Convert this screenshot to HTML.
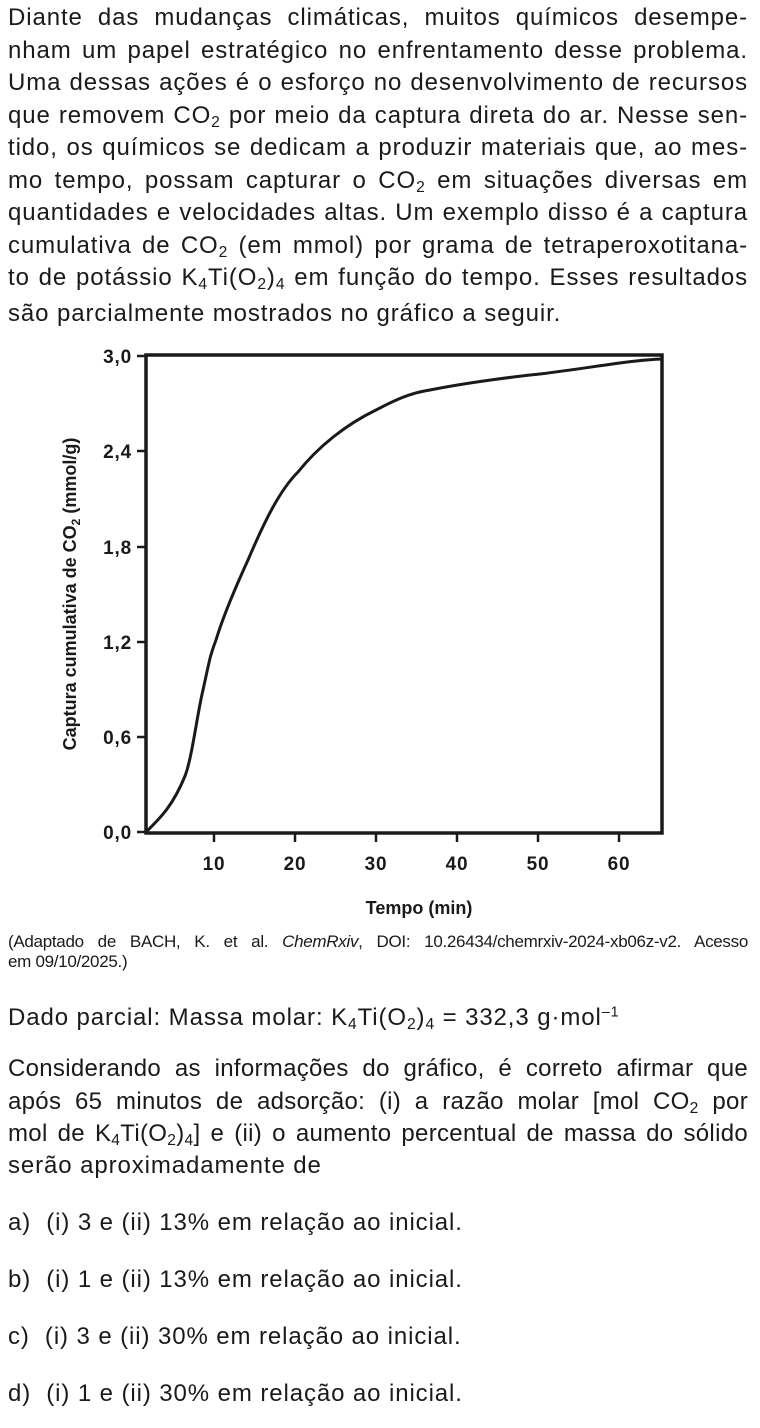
<!DOCTYPE html>
<html><head><meta charset="utf-8"><style>
body{margin:0;width:760px;height:1428px;background:#fff;font-family:"Liberation Sans",sans-serif;color:#1a1a1a;position:relative;overflow:hidden}
.p{position:absolute;left:8px;width:740px;font-size:24px;letter-spacing:0.9px;line-height:32.5px;text-align:justify;text-align-last:justify}
.l{position:absolute;left:8px;font-size:24px;letter-spacing:0.9px;white-space:nowrap}
sub{font-size:0.65em;vertical-align:-0.25em;line-height:0}
sup{font-size:0.6em;vertical-align:0.6em;line-height:0}
.cap{position:absolute;left:8px;width:740px;font-family:"Liberation Sans Narrow","Liberation Sans",sans-serif;font-size:17px;line-height:20px;letter-spacing:-0.3px}
</style></head><body>
<div class="p" style="top:2px;">Diante das mudanças climáticas, muitos químicos desempe-<br>nham um papel estratégico no enfrentamento desse problema.<br>Uma dessas ações é o esforço no desenvolvimento de recursos<br>que removem CO<sub>2</sub> por meio da captura direta do ar. Nesse sen-<br>tido, os químicos se dedicam a produzir materiais que, ao mes-<br>mo tempo, possam capturar o CO<sub>2</sub> em situações diversas em<br>quantidades e velocidades altas. Um exemplo disso é a captura<br>cumulativa de CO<sub>2</sub> (em mmol) por grama de tetraperoxotitana-<br>to de potássio K<sub>4</sub>Ti(O<sub>2</sub>)<sub>4</sub> em função do tempo. Esses resultados</div>
<div class="l" style="top:300px;">são parcialmente mostrados no gráfico a seguir.</div>

<svg style="position:absolute;left:0;top:0" width="760" height="940">
<g font-family="Liberation Sans Narrow, Liberation Sans, sans-serif" font-weight="bold" font-size="19" letter-spacing="0.8" fill="#1a1a1a">
<rect x="146" y="355" width="516" height="478" fill="none" stroke="#1a1a1a" stroke-width="3.5"/>
<g stroke="#1a1a1a" stroke-width="2.5">
<line x1="137" y1="356" x2="146" y2="356"/><line x1="137" y1="451" x2="146" y2="451"/><line x1="137" y1="547" x2="146" y2="547"/><line x1="137" y1="642" x2="146" y2="642"/><line x1="137" y1="737" x2="146" y2="737"/><line x1="137" y1="832" x2="146" y2="832"/>
<line x1="214" y1="833" x2="214" y2="842"/><line x1="295" y1="833" x2="295" y2="842"/><line x1="376" y1="833" x2="376" y2="842"/><line x1="457" y1="833" x2="457" y2="842"/><line x1="538" y1="833" x2="538" y2="842"/><line x1="619" y1="833" x2="619" y2="842"/>
</g>
<g text-anchor="end"><text x="132" y="363">3,0</text><text x="132" y="458">2,4</text><text x="132" y="554">1,8</text><text x="132" y="649">1,2</text><text x="132" y="744">0,6</text><text x="132" y="839">0,0</text></g>
<g text-anchor="middle"><text x="214" y="870">10</text><text x="295" y="870">20</text><text x="376" y="870">30</text><text x="457" y="870">40</text><text x="538" y="870">50</text><text x="619" y="870">60</text>
<text x="419" y="914" font-size="18" letter-spacing="0">Tempo (min)</text>
<text transform="translate(76,594) rotate(-90)" font-size="18" letter-spacing="0">Captura cumulativa de CO<tspan font-size="12" dy="4">2</tspan><tspan dy="-4"> (mmol/g)</tspan></text></g>
</g>
<path d="M146,832 C158,820 172,808 185,776 C192,758 197,715 203,690 C209,663 210,655 216,640 M216,640 C222,620 232,595 248,560 C265,520 280,490 298,472 C318,447 345,425 376,410 C395,400 410,393 430,390 C470,382 520,376 540,374 C590,368 630,360 662,359" fill="none" stroke="#1a1a1a" stroke-width="3"/>
</svg>

<div class="cap" style="top:932px;text-align:justify;text-align-last:justify">(Adaptado de BACH, K. et al. <i>ChemRxiv</i>, DOI: 10.26434/chemrxiv-2024-xb06z-v2. Acesso</div>
<div class="cap" style="top:952px;">em 09/10/2025.)</div>
<div class="l" style="top:1004px;">Dado parcial: Massa molar: K<sub>4</sub>Ti(O<sub>2</sub>)<sub>4</sub> = 332,3 g·mol<sup>–1</sup></div>
<div class="p" style="top:1053px;letter-spacing:0.3px;white-space:nowrap">Considerando as informações do gráfico, é correto afirmar que<br>após 65 minutos de adsorção: (i) a razão molar [mol CO<sub>2</sub> por<br>mol de K<sub>4</sub>Ti(O<sub>2</sub>)<sub>4</sub>] e (ii) o aumento percentual de massa do sólido</div>
<div class="l" style="top:1152px;">serão aproximadamente de</div>
<div class="l" style="top:1209px;">a)&nbsp;&nbsp;(i) 3 e (ii) 13% em relação ao inicial.</div>
<div class="l" style="top:1266px;">b)&nbsp;&nbsp;(i) 1 e (ii) 13% em relação ao inicial.</div>
<div class="l" style="top:1323px;">c)&nbsp;&nbsp;(i) 3 e (ii) 30% em relação ao inicial.</div>
<div class="l" style="top:1380px;">d)&nbsp;&nbsp;(i) 1 e (ii) 30% em relação ao inicial.</div>
</body></html>
